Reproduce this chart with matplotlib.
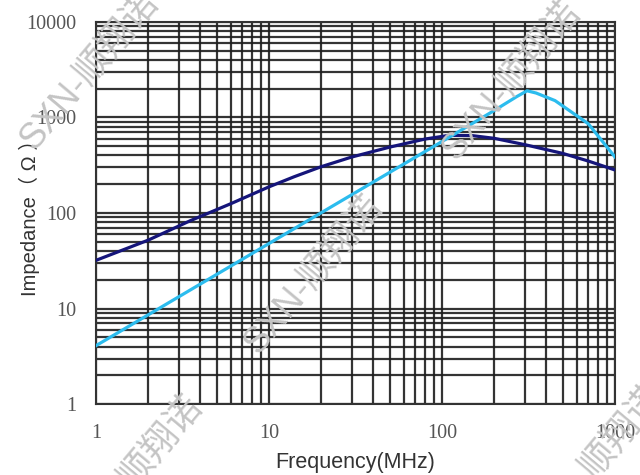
import numpy as np
import matplotlib.pyplot as plt
from matplotlib.ticker import LogLocator, FixedLocator, NullFormatter

# 曲线数据
freq_a = [1, 2, 3.5, 6, 10, 14, 20, 30, 50, 80, 110, 150, 200, 300, 500, 700, 1000]
imp_a = [32, 52, 83, 125, 188, 240, 305, 385, 490, 595, 650, 645, 605, 520, 420, 350, 282]

freq_b = [1, 10, 100, 200, 270, 310, 350, 450, 700, 1000]
imp_b = [4.1, 48, 560, 1180, 1650, 1900, 1800, 1500, 860, 385]

x_ticks = [1, 10, 100, 1000]
y_ticks = [1, 10, 100, 1000, 10000]
x_labels = ["1", "10", "100", "1000"]
y_labels = ["1", "10", "100", "1000", "10000"]

watermark = "SXN-顺翔诺"

fig = plt.figure(figsize=(6.4, 4.75), dpi=100)
ax = fig.add_axes([0.15, 0.149, 0.811, 0.805])

ax.set_xscale("log")
ax.set_yscale("log")
ax.set_xlim(1, 1000)
ax.set_ylim(1, 10000)

ax.xaxis.set_major_locator(FixedLocator(x_ticks))
ax.yaxis.set_major_locator(FixedLocator(y_ticks))
ax.xaxis.set_minor_locator(LogLocator(base=10, subs=np.arange(2, 10)))
ax.yaxis.set_minor_locator(LogLocator(base=10, subs=np.arange(2, 10)))
ax.xaxis.set_minor_formatter(NullFormatter())
ax.yaxis.set_minor_formatter(NullFormatter())
ax.set_xticklabels(x_labels)
ax.set_yticklabels(y_labels)

ax.grid(True, which="both", color="#1e1e1e", linewidth=1.6, alpha=0.9)
ax.tick_params(which="both", length=0)
ax.tick_params(axis="x", pad=14)
ax.tick_params(axis="y", pad=14)
for lab in ax.get_xticklabels() + ax.get_yticklabels():
    lab.set_family("Liberation Serif")
    lab.set_fontsize(14.5)
    lab.set_color("#555555")
for sp in ax.spines.values():
    sp.set_color("#333333")
    sp.set_linewidth(1.5)

ax.plot(freq_a, imp_a, color="#15157a", linewidth=2.3, zorder=3)
ax.plot(freq_b, imp_b, color="#2cbcee", linewidth=2.3, zorder=3)

ax.set_xlabel("Frequency(MHz)", family=["Liberation Sans", "DejaVu Sans"],
              fontsize=15.5, color="#333333", labelpad=7)
ax.set_ylabel("Impedance（ Ω ）", family=["Liberation Sans", "Noto Sans CJK SC"],
              fontsize=14.5, color="#333333")
ax.yaxis.set_label_coords(-0.108, 0.5)

# 水印
wm_pos = [(0.14, 0.85), (0.49, 0.42), (0.80, 0.83), (0.21, 0.0), (0.93, 0.02)]
for (px, py) in wm_pos:
    fig.text(px, py, watermark, family=["Liberation Sans", "Noto Sans CJK SC"],
             fontsize=26, color="#c4c4c4", rotation=50, ha="center",
             va="center", zorder=10)

fig.savefig("out.png", dpi=100)
